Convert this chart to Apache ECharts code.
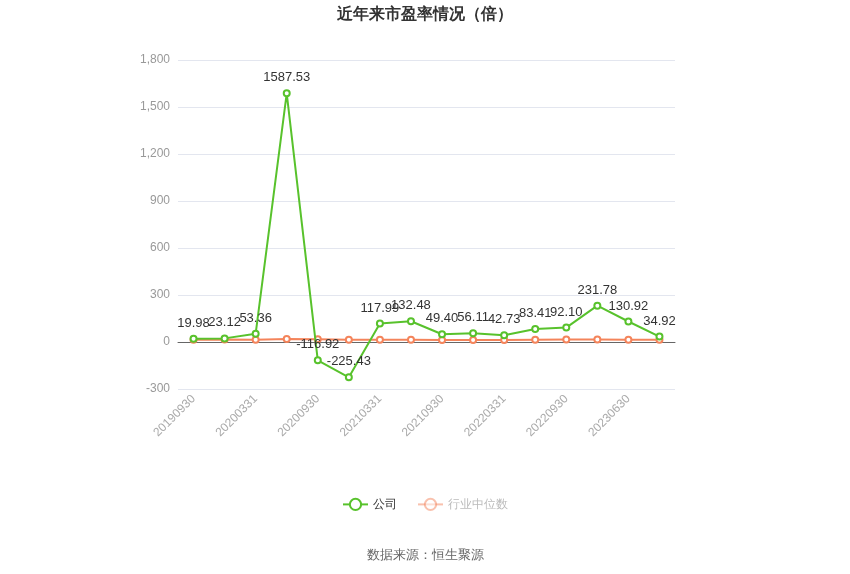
<!DOCTYPE html>
<html>
<head>
<meta charset="utf-8">
<script src="https://cdn.jsdelivr.net/npm/echarts@6/dist/echarts.min.js"></script>
<style>
  html, body { margin: 0; padding: 0; background: #fff; }
  #chart { width: 850px; height: 574px; }
</style>
</head>
<body>
<div id="chart"></div>
<script>
var dates = [
  '20190930', '20191231', '20200331', '20200630', '20200930', '20201231',
  '20210331', '20210630', '20210930', '20211231', '20220331', '20220630',
  '20220930', '20221231', '20230630', '20230930'
];
var companyPE = [
  19.98, 23.12, 53.36, 1587.53, -116.92, -225.43, 117.99, 132.48,
  49.40, 56.11, 42.73, 83.41, 92.10, 231.78, 130.92, 34.92
];
var industryPE = [
  14.5, 15.2, 14.8, 18.5, 16.9, 15.1, 14.6, 14.2,
  13.5, 13.1, 12.8, 14.0, 15.3, 15.8, 14.6, 14.1
];

var myChart = echarts.init(document.getElementById('chart'));

var option = {
  title: {
    text: '近年来市盈率情况（倍）',
    left: 'center',
    top: 2,
    textStyle: { fontSize: 16, fontWeight: 'bold', color: '#333' }
  },
  graphic: [{
    type: 'text',
    left: 'center',
    top: 549,
    style: { text: '数据来源：恒生聚源', fill: '#666', fontSize: 13 }
  }],
  legend: {
    bottom: 58,
    left: 'center',
    itemWidth: 25,
    itemHeight: 14,
    itemGap: 20,
    data: [
      { name: '公司', textStyle: { color: '#333' } },
      { name: '行业中位数', textStyle: { color: '#bbb' }, itemStyle: { opacity: 0.5 }, lineStyle: { opacity: 0.5 } }
    ]
  },
  grid: {
    left: 178,
    right: 175,
    top: 60,
    bottom: 185
  },
  xAxis: {
    type: 'category',
    data: dates,
    axisLine: { lineStyle: { color: '#666' } },
    axisTick: { alignWithLabel: true, interval: 1, lineStyle: { color: '#999' } },
    axisLabel: { rotate: 45, interval: 1, color: '#aaa', fontSize: 12 }
  },
  yAxis: {
    type: 'value',
    min: -300,
    max: 1800,
    interval: 300,
    axisLine: { show: false },
    axisTick: { show: false },
    axisLabel: { color: '#999', fontSize: 12 },
    splitLine: { lineStyle: { color: '#e3e6ef' } }
  },
  series: [
    {
      name: '公司',
      type: 'line',
      data: companyPE,
      color: '#58c22c',
      symbol: 'emptyCircle',
      symbolSize: 6,
      lineStyle: { width: 2 },
      z: 3,
      label: {
        show: true,
        position: 'top',
        color: '#333',
        fontSize: 13,
        formatter: function (p) { return p.value.toFixed(2); }
      }
    },
    {
      name: '行业中位数',
      type: 'line',
      data: industryPE,
      color: '#f4845b',
      symbol: 'emptyCircle',
      symbolSize: 6,
      lineStyle: { width: 2 },
      z: 2
    }
  ]
};

myChart.setOption(option);
</script>
</body>
</html>
